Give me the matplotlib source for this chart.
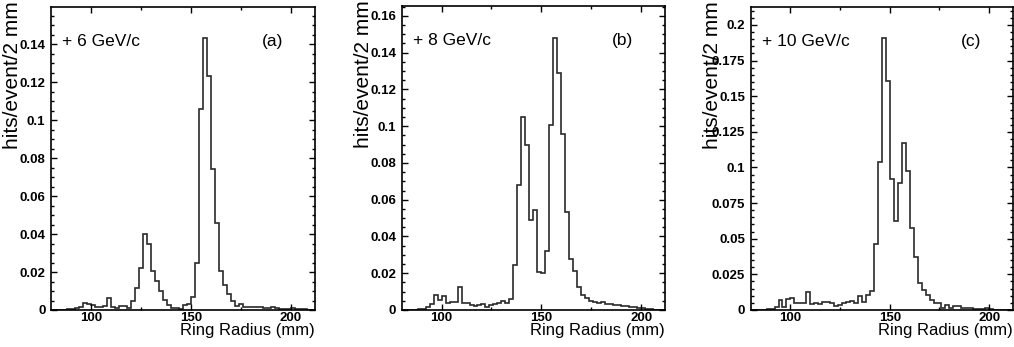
import numpy as np
import matplotlib
matplotlib.use('Agg')
import matplotlib.pyplot as plt
from matplotlib.ticker import MultipleLocator

plt.rcParams['font.family'] = ['Liberation Sans', 'DejaVu Sans']

# 2 mm bins from 80 to 212 mm
edges = np.arange(80, 213, 2)

# hits/event per bin
hits_6gev = [0, 0, 0, 0.0002, 0.0003, 0.0005, 0.001, 0.0016, 0.0037, 0.003,
             0.0027, 0.0017, 0.0018, 0.0021, 0.0065, 0.0015, 0.0012, 0.0022, 0.0019, 0.0012,
             0.0045, 0.0118, 0.022, 0.040, 0.0346, 0.0207, 0.0155, 0.0100, 0.0052, 0.0027,
             0.0013, 0.0009, 0.0006, 0.0028, 0.0032, 0.0068, 0.025, 0.106, 0.1435, 0.1235,
             0.0743, 0.0458, 0.0207, 0.013, 0.0085, 0.0047, 0.0022, 0.0033, 0.0015, 0.0018,
             0.0018, 0.0017, 0.0016, 0.001, 0.0009, 0.0016, 0.0008, 0.0005, 0.0005, 0.0004,
             0.0012, 0.0006, 0.0005, 0.0004, 0.0002, 0]
hits_8gev = [0, 0, 0, 0.0002, 0.0005, 0.0008, 0.0015, 0.003, 0.008, 0.0055,
             0.0075, 0.004, 0.0045, 0.0045, 0.0125, 0.0036, 0.004, 0.0027, 0.002, 0.0027,
             0.0031, 0.0015, 0.0027, 0.003, 0.0036, 0.005, 0.0038, 0.0058, 0.0245, 0.068,
             0.105, 0.0896, 0.049, 0.0544, 0.0205, 0.020, 0.0323, 0.1005, 0.148, 0.129,
             0.0956, 0.0533, 0.0278, 0.0212, 0.0127, 0.0082, 0.0064, 0.0049, 0.0045, 0.004,
             0.0041, 0.0035, 0.0031, 0.0028, 0.0026, 0.0024, 0.0022, 0.0018, 0.0014, 0.0013,
             0.001, 0.0006, 0.0004, 0.0002, 0.0001, 0]
hits_10gev = [0, 0, 0, 0.0002, 0.0004, 0.0007, 0.0019, 0.007, 0.0019, 0.0077,
              0.0082, 0.0047, 0.0049, 0.0049, 0.0129, 0.0042, 0.0047, 0.0042, 0.0054, 0.0058,
              0.0047, 0.0028, 0.0037, 0.0047, 0.0054, 0.0063, 0.0051, 0.0096, 0.0054, 0.0105,
              0.013, 0.046, 0.1036, 0.191, 0.1607, 0.092, 0.0627, 0.0889, 0.117, 0.0975,
              0.0573, 0.037, 0.019, 0.014, 0.0103, 0.0072, 0.005, 0.0047, 0.0014, 0.0037,
              0.0014, 0.003, 0.0028, 0.0014, 0.0016, 0.0012, 0.001, 0.001, 0.0008, 0.0016,
              0.0005, 0.0002, 0.0001, 0, 0, 0]

momenta = ['+ 6 GeV/c', '+ 8 GeV/c', '+ 10 GeV/c']
letters = ['(a)', '(b)', '(c)']
x_ticks = [100, 150, 200]
y_ticks_a = [0, 0.02, 0.04, 0.06, 0.08, 0.1, 0.12, 0.14]
y_ticks_b = [0, 0.02, 0.04, 0.06, 0.08, 0.1, 0.12, 0.14, 0.16]
y_ticks_c = [0, 0.025, 0.05, 0.075, 0.1, 0.125, 0.15, 0.175, 0.2]

fig = plt.figure(figsize=(10.14, 3.47), dpi=100)
W, H = 1014, 347
# axes boxes in pixels: left, right, top, bottom
boxes = [(51, 315, 7, 310), (401.7, 665, 6, 310), (750.7, 1013, 7, 310)]
ytops = [0.1597, 0.1654, 0.2126]
yticks = [y_ticks_a, y_ticks_b, y_ticks_c]
data = [hits_6gev, hits_8gev, hits_10gev]

for i in range(3):
    l, r, t, b = boxes[i]
    ax = fig.add_axes([l / W, (H - b) / H, (r - l) / W, (b - t) / H])
    ax.stairs(data[i], edges, color='#2a2a2a', lw=1.2)
    ax.set_xlim(80, 212)
    ax.set_ylim(0, ytops[i])

    ax.set_xticks(x_ticks)
    ax.set_xticklabels([str(v) for v in x_ticks])
    ax.xaxis.set_minor_locator(MultipleLocator(25))
    ax.set_yticks(yticks[i])
    ax.set_yticklabels(['%g' % v for v in yticks[i]])
    ax.yaxis.set_minor_locator(MultipleLocator(0.005))
    ax.tick_params(which='both', direction='in', top=True, right=True, width=1.0)
    ax.tick_params(which='major', length=4, labelsize=9.5)
    ax.tick_params(axis='y', which='major', pad=4)
    ax.tick_params(axis='x', which='major', pad=1.5)
    ax.tick_params(which='minor', length=2)
    for lab in ax.get_xticklabels() + ax.get_yticklabels():
        lab.set_fontweight('bold')
    for sp in ax.spines.values():
        sp.set_linewidth(1.2)

    ax.set_xlabel('Ring Radius (mm)', fontsize=12, loc='right')
    ax.xaxis.set_label_coords(1.0, -0.043)
    ax.set_ylabel('hits/event/2 mm', fontsize=15, loc='top')
    ax.yaxis.set_label_coords(-29 / (r - l), 1.02)

    ax.text(0.042, 0.871, momenta[i], transform=ax.transAxes, fontsize=12.5)
    ax.text(0.878, 0.871, letters[i], transform=ax.transAxes, fontsize=12.5, ha='right')

fig.savefig('out.png', dpi=100)
